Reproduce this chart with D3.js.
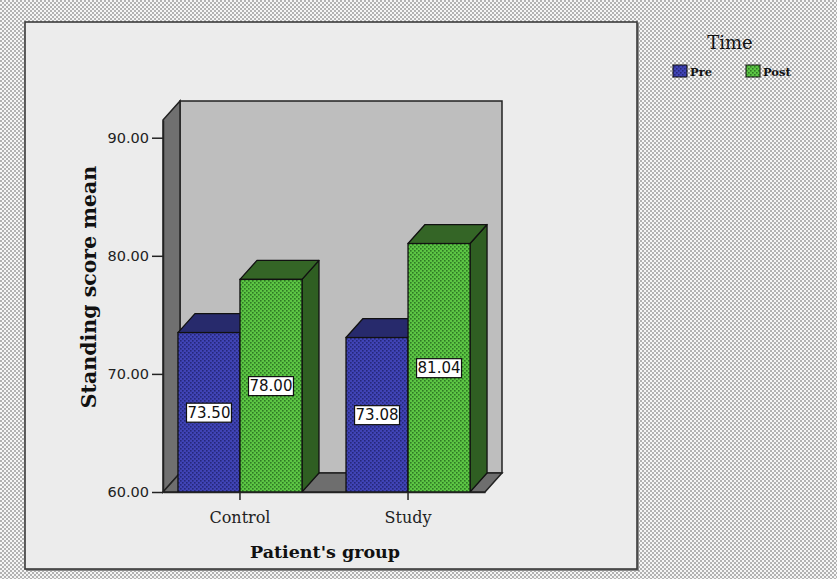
<!DOCTYPE html>
<html>
<head>
<meta charset="utf-8">
<script src="https://cdn.jsdelivr.net/npm/d3@7"></script>
<style>
  html, body { margin: 0; padding: 0; background: #f2f2f2; }
  svg { display: block; }
</style>
</head>
<body>
<script>
// Standing score means by patient group and measurement time
const groups = ["Control", "Study"];
const times = ["Pre", "Post"];
const preValues = [73.50, 73.08];
const postValues = [78.00, 81.04];
const yTicks = [60, 70, 80, 90];

const W = 837, H = 579;
const svg = d3.select("body").append("svg").attr("width", W).attr("height", H);
const defs = svg.append("defs");

// dotted fills
function dotPattern(id, base, dot, size, dotSize) {
  const p = defs.append("pattern").attr("id", id).attr("patternUnits", "userSpaceOnUse")
    .attr("width", size).attr("height", size);
  p.append("rect").attr("width", size).attr("height", size).attr("fill", base);
  p.append("rect").attr("x", 0).attr("y", 0).attr("width", dotSize).attr("height", dotSize).attr("fill", dot);
  p.append("rect").attr("x", size / 2).attr("y", size / 2).attr("width", dotSize).attr("height", dotSize).attr("fill", dot);
}
dotPattern("page", "#f6f6f6", "#b2b2b2", 4, 2);
dotPattern("preFill", "#4044b6", "#25287a", 4, 1.6);
dotPattern("postFill", "#5cc644", "#2f7a24", 4, 1.6);

const colors = {
  Pre: { front: "url(#preFill)", top: "#272a6c", side: "#232566" },
  Post: { front: "url(#postFill)", top: "#346526", side: "#2f5e22" }
};

// page background and chart panel
svg.append("rect").attr("width", W).attr("height", H).attr("fill", "url(#page)");
svg.append("rect").attr("x", 26).attr("y", 23).attr("width", 613).attr("height", 548)
  .attr("fill", "#8a8a8a");
svg.append("rect").attr("x", 25).attr("y", 22).attr("width", 612).attr("height", 547)
  .attr("fill", "#ececec").attr("stroke", "#3a3a3a").attr("stroke-width", 1.6);

// plot geometry
const x0 = 163, x1 = 485, yBase = 492;
const dx = 17, dy = -19;

const y = d3.scaleLinear().domain([60, 91.5]).range([yBase, 120]);
const xg = d3.scaleBand().domain(groups).range([x0, x1]).paddingInner(0.262).paddingOuter(0.089);
const xt = d3.scaleBand().domain(times).range([0, xg.bandwidth()]);

const yTop = y.range()[1];
const wallStroke = "#222";

// back wall
svg.append("polygon")
  .attr("points", [[x0 + dx, yTop + dy], [x1 + dx, yTop + dy], [x1 + dx, yBase + dy], [x0 + dx, yBase + dy]].join(" "))
  .attr("fill", "#bebebe").attr("stroke", wallStroke).attr("stroke-width", 1.5);
// left wall
svg.append("polygon")
  .attr("points", [[x0, yTop], [x0 + dx, yTop + dy], [x0 + dx, yBase + dy], [x0, yBase]].join(" "))
  .attr("fill", "#707070").attr("stroke", wallStroke).attr("stroke-width", 1.5);
// floor
svg.append("polygon")
  .attr("points", [[x0, yBase], [x0 + dx, yBase + dy], [x1 + dx, yBase + dy], [x1, yBase]].join(" "))
  .attr("fill", "#6e6e6e").attr("stroke", wallStroke).attr("stroke-width", 1.5);

// bars
const rows = [];
groups.forEach((g, i) => {
  rows.push({ group: g, time: "Pre", value: preValues[i] });
  rows.push({ group: g, time: "Post", value: postValues[i] });
});

const barG = svg.append("g");
rows.forEach(d => {
  const bx = xg(d.group) + xt(d.time);
  const bw = xt.bandwidth();
  const by = y(d.value);
  const c = colors[d.time];
  // side
  barG.append("polygon")
    .attr("points", [[bx + bw, by], [bx + bw + dx, by + dy], [bx + bw + dx, yBase + dy], [bx + bw, yBase]].join(" "))
    .attr("fill", c.side).attr("stroke", "#111").attr("stroke-width", 1.3).attr("stroke-linejoin", "round");
  // top
  barG.append("polygon")
    .attr("points", [[bx, by], [bx + dx, by + dy], [bx + bw + dx, by + dy], [bx + bw, by]].join(" "))
    .attr("fill", c.top).attr("stroke", "#111").attr("stroke-width", 1.3).attr("stroke-linejoin", "round");
  // front
  barG.append("rect")
    .attr("x", bx).attr("y", by).attr("width", bw).attr("height", yBase - by)
    .attr("fill", c.front).attr("stroke", "#111").attr("stroke-width", 1.3);
});

// value labels
rows.forEach(d => {
  const cx = xg(d.group) + xt(d.time) + xt.bandwidth() / 2;
  const cy = (y(d.value) + yBase) / 2;
  const lg = svg.append("g").attr("transform", `translate(${cx},${cy})`);
  const t = lg.append("text").text(d3.format(".2f")(d.value))
    .attr("text-anchor", "middle").attr("dy", "0.36em")
    .attr("font-family", "DejaVu Sans, sans-serif").attr("font-size", 15).attr("fill", "#111");
  const bb = t.node().getBBox();
  lg.insert("rect", "text")
    .attr("x", bb.x - 1).attr("y", bb.y - 0.5).attr("width", bb.width + 2).attr("height", bb.height + 1)
    .attr("fill", "#fff").attr("stroke", "#111").attr("stroke-width", 1.2);
});

// y axis
const yAxis = svg.append("g").attr("transform", `translate(${x0},0)`)
  .call(d3.axisLeft(y).tickValues(yTicks).tickFormat(d3.format(".2f")).tickSize(11).tickSizeOuter(0).tickPadding(3));
yAxis.select(".domain").attr("stroke", "#222").attr("stroke-width", 1.5);
yAxis.selectAll(".tick line").attr("stroke", "#222").attr("stroke-width", 1.5);
yAxis.selectAll(".tick text").attr("font-family", "DejaVu Sans, sans-serif").attr("font-size", 14.5).attr("fill", "#222");

// x axis
const xAxis = svg.append("g").attr("transform", `translate(0,${yBase})`)
  .call(d3.axisBottom(xg).tickSize(8).tickSizeOuter(0).tickPadding(12));
xAxis.select(".domain").attr("stroke", "#222").attr("stroke-width", 1.5);
xAxis.selectAll(".tick line").attr("stroke", "#222").attr("stroke-width", 1.5);
xAxis.selectAll(".tick text").attr("font-family", "DejaVu Serif, serif").attr("font-size", 16).attr("fill", "#222");

// axis titles
svg.append("text").text("Patient's group")
  .attr("x", (x0 + x1) / 2 + 1).attr("y", 558).attr("text-anchor", "middle")
  .attr("font-family", "DejaVu Serif, serif").attr("font-weight", "bold").attr("font-size", 17.5).attr("fill", "#111");
svg.append("text").text("Standing score mean")
  .attr("transform", `translate(96,${287}) rotate(-90)`).attr("text-anchor", "middle")
  .attr("font-family", "DejaVu Serif, serif").attr("font-weight", "bold").attr("font-size", 20.5).attr("fill", "#111");

// legend
const legend = svg.append("g");
legend.append("text").text("Time").attr("x", 730).attr("y", 49).attr("text-anchor", "middle")
  .attr("font-family", "DejaVu Serif, serif").attr("font-size", 18).attr("fill", "#111");
const legendX = [673, 746];
times.forEach((t, i) => {
  legend.append("rect").attr("x", legendX[i]).attr("y", 65).attr("width", 14).attr("height", 12)
    .attr("fill", colors[t].front).attr("stroke", "#111").attr("stroke-width", 1);
  legend.append("text").text(t).attr("x", legendX[i] + 17).attr("y", 76)
    .attr("font-family", "DejaVu Serif, serif").attr("font-weight", "bold").attr("font-size", 11.5).attr("fill", "#111");
});
</script>
</body>
</html>
